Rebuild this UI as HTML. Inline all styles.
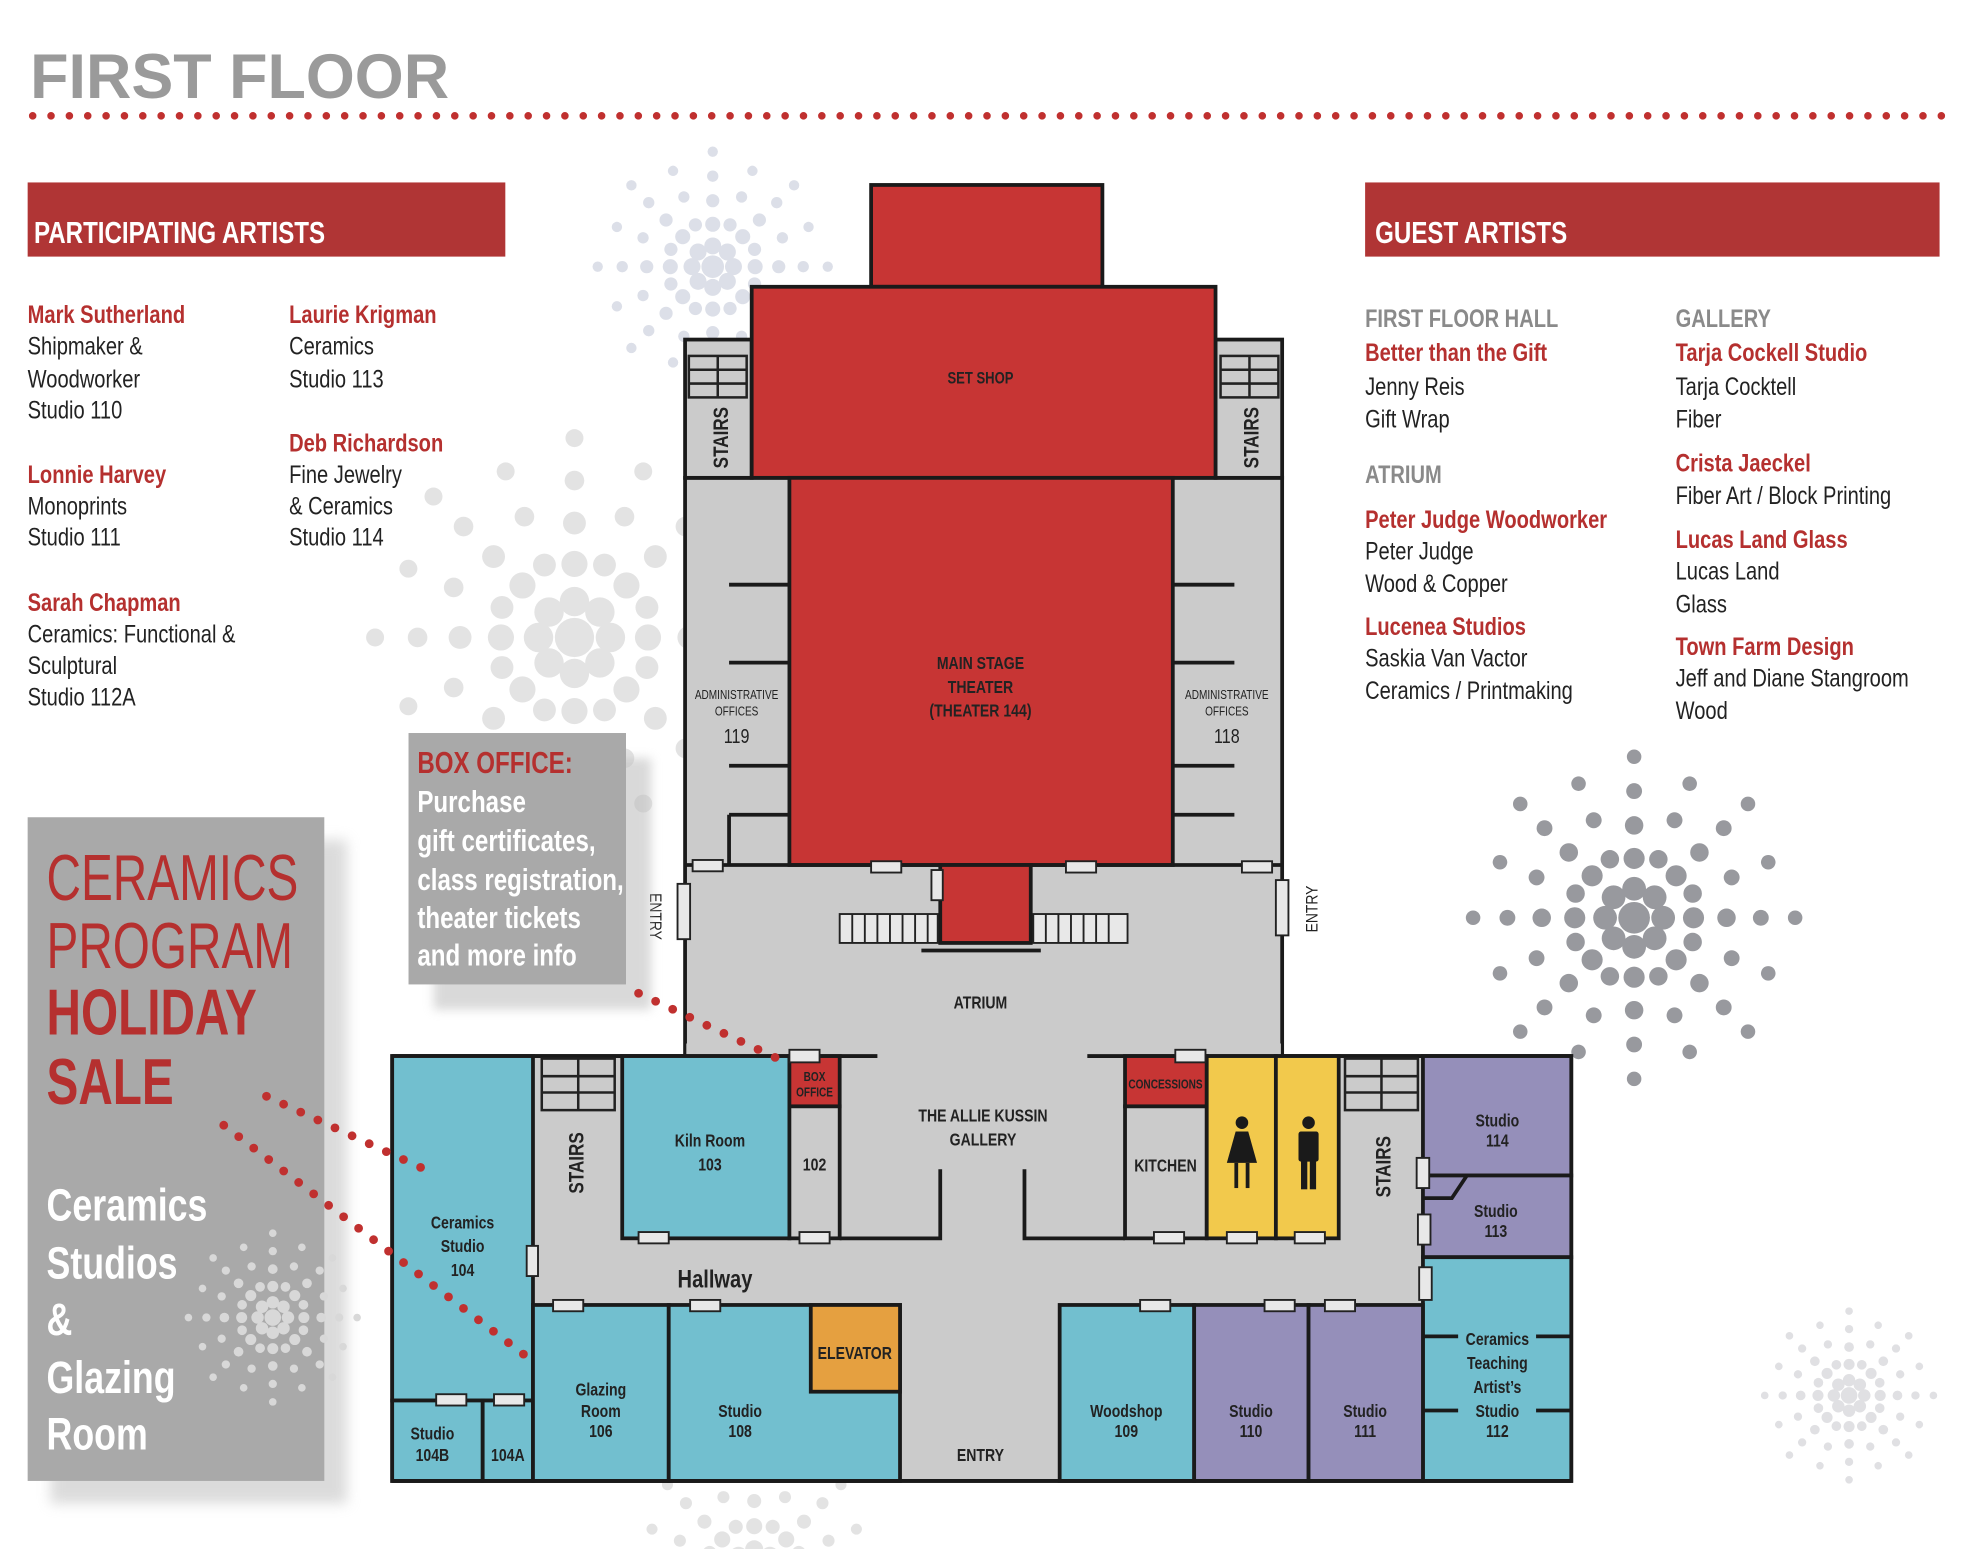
<!DOCTYPE html>
<html><head><meta charset="utf-8"><style>
html,body{margin:0;padding:0;background:#fff;overflow:hidden;width:1971px;height:1549px;}
svg{display:block;}
text{font-family:"Liberation Sans",sans-serif;}
.b{font-weight:bold;}
.lbl{font-weight:bold;font-size:14px;fill:#222;text-anchor:middle;}
.w{stroke:#1a1a1a;stroke-width:3;}
.door{fill:#e8e8e8;stroke:#222;stroke-width:1.5;}
.a{font-size:20px;fill:#222;}
.r{font-size:20px;fill:#b5302f;font-weight:bold;}
.g{font-size:20px;fill:#8a8a8a;font-weight:bold;}
</style></head><body>
<svg width="1971" height="1549" viewBox="0 0 1568 1232" xmlns="http://www.w3.org/2000/svg">
<defs>
<g id="ray"><circle cx="22" cy="0" r="9"/><circle cx="45" cy="0" r="8"/><circle cx="70" cy="0" r="7"/><circle cx="96" cy="0" r="6"/><circle cx="122" cy="0" r="5.5"/></g>
<g id="ray2"><circle cx="48" cy="0" r="7"/><circle cx="80" cy="0" r="6"/><circle cx="110" cy="0" r="5.5"/></g>
<g id="burst">
<circle r="12"/>
<use href="#ray"/><use href="#ray" transform="rotate(45)"/><use href="#ray" transform="rotate(90)"/><use href="#ray" transform="rotate(135)"/><use href="#ray" transform="rotate(180)"/><use href="#ray" transform="rotate(225)"/><use href="#ray" transform="rotate(270)"/><use href="#ray" transform="rotate(315)"/>
<use href="#ray2" transform="rotate(22.5)"/><use href="#ray2" transform="rotate(67.5)"/><use href="#ray2" transform="rotate(112.5)"/><use href="#ray2" transform="rotate(157.5)"/><use href="#ray2" transform="rotate(202.5)"/><use href="#ray2" transform="rotate(247.5)"/><use href="#ray2" transform="rotate(292.5)"/><use href="#ray2" transform="rotate(337.5)"/>
</g>
</defs>
<rect width="1568" height="1232" fill="#fff"/>
<use href="#burst" fill="#dcdfe8" transform="translate(567,212) scale(0.75)"/>
<use href="#burst" fill="#e3e3e3" transform="translate(457,507) scale(1.3)"/>
<use href="#burst" fill="#98999e" transform="translate(1300,730) scale(1.05)"/>
<use href="#burst" fill="#e0e0e3" transform="translate(1471,1110) scale(0.55)"/>
<use href="#burst" fill="#e3e3e3" transform="translate(600,1250) scale(0.8)"/>

<text x="24" y="78" class="b" style="font-size:50px;fill:#9a9a9a">FIRST FLOOR</text>
<line x1="26" y1="92" x2="1545" y2="92" stroke="#c0302f" stroke-width="6" stroke-linecap="round" stroke-dasharray="0 14.6"/>

<rect x="22" y="145" width="380" height="59" fill="#b03535"/>
<g transform="translate(27,0) scale(0.8,1)"><text x="0" y="193" class="b" style="font-size:24px;fill:#fff">PARTICIPATING ARTISTS</text></g>
<rect x="1086" y="145" width="457" height="59" fill="#b03535"/>
<g transform="translate(1094,0) scale(0.8,1)"><text x="0" y="193" class="b" style="font-size:24px;fill:#fff">GUEST ARTISTS</text></g>

<g transform="translate(22,0) scale(0.8,1)">
<text class="r" x="0" y="257">Mark Sutherland</text>
<text class="a" x="0" y="282">Shipmaker &amp;</text>
<text class="a" x="0" y="308">Woodworker</text>
<text class="a" x="0" y="333">Studio 110</text>
<text class="r" x="0" y="384">Lonnie Harvey</text>
<text class="a" x="0" y="409">Monoprints</text>
<text class="a" x="0" y="434">Studio 111</text>
<text class="r" x="0" y="486">Sarah Chapman</text>
<text class="a" x="0" y="511">Ceramics: Functional &amp;</text>
<text class="a" x="0" y="536">Sculptural</text>
<text class="a" x="0" y="561">Studio 112A</text>
</g>
<g transform="translate(230,0) scale(0.8,1)">
<text class="r" x="0" y="257">Laurie Krigman</text>
<text class="a" x="0" y="282">Ceramics</text>
<text class="a" x="0" y="308">Studio 113</text>
<text class="r" x="0" y="359">Deb Richardson</text>
<text class="a" x="0" y="384">Fine Jewelry</text>
<text class="a" x="0" y="409">&amp; Ceramics</text>
<text class="a" x="0" y="434">Studio 114</text>
</g>
<g transform="translate(1086,0) scale(0.8,1)">
<text class="g" x="0" y="260">FIRST FLOOR HALL</text>
<text class="r" x="0" y="287">Better than the Gift</text>
<text class="a" x="0" y="314">Jenny Reis</text>
<text class="a" x="0" y="340">Gift Wrap</text>
<text class="g" x="0" y="384">ATRIUM</text>
<text class="r" x="0" y="420">Peter Judge Woodworker</text>
<text class="a" x="0" y="445">Peter Judge</text>
<text class="a" x="0" y="471">Wood &amp; Copper</text>
<text class="r" x="0" y="505">Lucenea Studios</text>
<text class="a" x="0" y="530">Saskia Van Vactor</text>
<text class="a" x="0" y="556">Ceramics / Printmaking</text>
</g>
<g transform="translate(1333,0) scale(0.8,1)">
<text class="g" x="0" y="260">GALLERY</text>
<text class="r" x="0" y="287">Tarja Cockell Studio</text>
<text class="a" x="0" y="314">Tarja Cocktell</text>
<text class="a" x="0" y="340">Fiber</text>
<text class="r" x="0" y="375">Crista Jaeckel</text>
<text class="a" x="0" y="401">Fiber Art / Block Printing</text>
<text class="r" x="0" y="436">Lucas Land Glass</text>
<text class="a" x="0" y="461">Lucas Land</text>
<text class="a" x="0" y="487">Glass</text>
<text class="r" x="0" y="521">Town Farm Design</text>
<text class="a" x="0" y="546">Jeff and Diane Stangroom</text>
<text class="a" x="0" y="572">Wood</text>
</g>

<!-- FLOOR PLAN -->
<rect x="545" y="380" width="475" height="462" fill="#cbcbcb" class="w"/>
<rect x="312" y="840" width="938" height="338" fill="#cbcbcb" class="w"/>
<rect x="546" y="830" width="473" height="20" fill="#cbcbcb"/>
<line x1="312" y1="840" x2="698" y2="840" class="w"/>
<line x1="865" y1="840" x2="1250" y2="840" class="w"/>
<rect x="545" y="270" width="53" height="110" fill="#cbcbcb" class="w"/>
<rect x="967" y="270" width="53" height="110" fill="#cbcbcb" class="w"/>
<g fill="none" stroke="#222" stroke-width="2">
<rect x="548" y="283" width="46" height="33"/><line x1="548" y1="294" x2="594" y2="294"/><line x1="548" y1="305" x2="594" y2="305"/><line x1="571" y1="283" x2="571" y2="316"/>
<rect x="971" y="283" width="46" height="33"/><line x1="971" y1="294" x2="1017" y2="294"/><line x1="971" y1="305" x2="1017" y2="305"/><line x1="994" y1="283" x2="994" y2="316"/>
<rect x="431" y="842" width="58" height="41"/><line x1="431" y1="856" x2="489" y2="856"/><line x1="431" y1="869" x2="489" y2="869"/><line x1="460" y1="842" x2="460" y2="883"/>
<rect x="1070" y="842" width="58" height="41"/><line x1="1070" y1="856" x2="1128" y2="856"/><line x1="1070" y1="869" x2="1128" y2="869"/><line x1="1099" y1="842" x2="1099" y2="883"/>
</g>
<text class="lbl" transform="translate(579,348) rotate(-90) scale(0.8,1)" style="font-size:17px">STAIRS</text>
<text class="lbl" transform="translate(1001,348) rotate(-90) scale(0.8,1)" style="font-size:17px">STAIRS</text>
<text class="lbl" transform="translate(464,925) rotate(-90) scale(0.8,1)" style="font-size:17px">STAIRS</text>
<text class="lbl" transform="translate(1106,928) rotate(-90) scale(0.8,1)" style="font-size:17px">STAIRS</text>

<rect x="693" y="147" width="184" height="81" fill="#c73534" class="w"/>
<rect x="598" y="228" width="369" height="152" fill="#c73534" class="w"/>
<rect x="628" y="380" width="305" height="308" fill="#c73534" class="w"/>
<line x1="545" y1="688" x2="1020" y2="688" class="w"/>
<g class="w"><line x1="580" y1="465" x2="628" y2="465"/><line x1="580" y1="527" x2="628" y2="527"/><line x1="580" y1="609" x2="628" y2="609"/><line x1="580" y1="648" x2="628" y2="648"/><line x1="580" y1="648" x2="580" y2="688"/>
<line x1="933" y1="465" x2="982" y2="465"/><line x1="933" y1="527" x2="982" y2="527"/><line x1="933" y1="609" x2="982" y2="609"/><line x1="933" y1="648" x2="982" y2="648"/></g>
<rect x="748" y="688" width="72" height="62" fill="#c73534" class="w"/>
<g fill="#e8e8e8" stroke="#222" stroke-width="1.5">
<rect x="668" y="727" width="78" height="23"/><rect x="822" y="727" width="75" height="23"/></g>
<g stroke="#222" stroke-width="1.5">
<line x1="678" y1="727" x2="678" y2="750"/><line x1="688" y1="727" x2="688" y2="750"/><line x1="698" y1="727" x2="698" y2="750"/><line x1="708" y1="727" x2="708" y2="750"/><line x1="718" y1="727" x2="718" y2="750"/><line x1="728" y1="727" x2="728" y2="750"/><line x1="738" y1="727" x2="738" y2="750"/>
<line x1="832" y1="727" x2="832" y2="750"/><line x1="842" y1="727" x2="842" y2="750"/><line x1="852" y1="727" x2="852" y2="750"/><line x1="862" y1="727" x2="862" y2="750"/><line x1="872" y1="727" x2="872" y2="750"/><line x1="882" y1="727" x2="882" y2="750"/></g>
<line x1="733" y1="756" x2="828" y2="756" class="w"/>

<rect x="312" y="840" width="112" height="274" fill="#72bfcf" class="w"/>
<rect x="312" y="1114" width="72" height="64" fill="#72bfcf" class="w"/>
<rect x="384" y="1114" width="40" height="64" fill="#72bfcf" class="w"/>
<rect x="495" y="840" width="133" height="145" fill="#72bfcf" class="w"/>
<rect x="628" y="840" width="40" height="40" fill="#c73534" class="w"/>
<rect x="628" y="880" width="40" height="105" fill="#cbcbcb" class="w"/>
<g class="w" fill="none"><polyline points="668,985 748,985 748,930"/><polyline points="815,930 815,985 895,985"/></g>
<rect x="895" y="840" width="65" height="40" fill="#c73534" class="w"/>
<rect x="895" y="880" width="65" height="105" fill="#cbcbcb" class="w"/>
<rect x="960" y="840" width="55" height="145" fill="#f2c94c" class="w"/>
<rect x="1015" y="840" width="50" height="145" fill="#f2c94c" class="w"/>
<g fill="#1a1a1a">
<circle cx="988" cy="893" r="5"/><polygon points="983,900 993,900 1000,925 976,925"/><rect x="982" y="925" width="3" height="20"/><rect x="991" y="925" width="3" height="20"/>
<circle cx="1041" cy="893" r="5"/><rect x="1033" y="900" width="16" height="24" rx="2"/><rect x="1035" y="922" width="5" height="24"/><rect x="1042" y="922" width="5" height="24"/></g>
<rect x="1132" y="840" width="118" height="95" fill="#958fba" class="w"/>
<rect x="1132" y="935" width="118" height="65" fill="#958fba" class="w"/>
<polyline points="1132,953 1155,953 1167,935" fill="none" class="w"/>
<rect x="1132" y="1000" width="118" height="178" fill="#72bfcf" class="w"/>
<g class="w"><line x1="1132" y1="1063" x2="1160" y2="1063"/><line x1="1222" y1="1063" x2="1250" y2="1063"/><line x1="1132" y1="1122" x2="1160" y2="1122"/><line x1="1222" y1="1122" x2="1250" y2="1122"/></g>
<rect x="424" y="1038" width="108" height="140" fill="#72bfcf" class="w"/>
<rect x="532" y="1038" width="184" height="140" fill="#72bfcf" class="w"/>
<rect x="645" y="1038" width="71" height="69" fill="#e5a040" class="w"/>
<rect x="843" y="1038" width="107" height="140" fill="#72bfcf" class="w"/>
<rect x="950" y="1038" width="91" height="140" fill="#958fba" class="w"/>
<rect x="1041" y="1038" width="91" height="140" fill="#958fba" class="w"/>
<line x1="312" y1="1178" x2="1250" y2="1178" class="w"/>

<!-- plan labels (condensed) -->
<g transform="scale(0.8,1)">
<text class="lbl" x="975" y="305" style="font-size:13px">SET SHOP</text>
<text class="lbl" x="975" y="532">MAIN STAGE</text>
<text class="lbl" x="975" y="551">THEATER</text>
<text class="lbl" x="975" y="570">(THEATER 144)</text>
<text class="lbl" x="732.5" y="556" style="font-size:10px;font-weight:normal">ADMINISTRATIVE</text>
<text class="lbl" x="732.5" y="569" style="font-size:10px;font-weight:normal">OFFICES</text>
<text class="lbl" x="732.5" y="591" style="font-size:16px;font-weight:normal">119</text>
<text class="lbl" x="1220" y="556" style="font-size:10px;font-weight:normal">ADMINISTRATIVE</text>
<text class="lbl" x="1220" y="569" style="font-size:10px;font-weight:normal">OFFICES</text>
<text class="lbl" x="1220" y="591" style="font-size:16px;font-weight:normal">118</text>
<text class="lbl" x="975" y="802">ATRIUM</text>
<text class="lbl" x="460" y="977">Ceramics</text><text class="lbl" x="460" y="996">Studio</text><text class="lbl" x="460" y="1015">104</text>
<text class="lbl" x="430" y="1145">Studio</text><text class="lbl" x="430" y="1162">104B</text>
<text class="lbl" x="505" y="1162">104A</text>
<text class="lbl" x="706" y="912">Kiln Room</text><text class="lbl" x="706" y="931">103</text>
<text class="lbl" x="810" y="860" style="font-size:10px">BOX</text><text class="lbl" x="810" y="872" style="font-size:10px">OFFICE</text>
<text class="lbl" x="810" y="931">102</text>
<text class="lbl" x="977.5" y="892">THE ALLIE KUSSIN</text><text class="lbl" x="977.5" y="911">GALLERY</text>
<text class="lbl" x="1159" y="866" style="font-size:10px">CONCESSIONS</text>
<text class="lbl" x="1159" y="932">KITCHEN</text>
<text class="lbl" x="1489" y="896">Studio</text><text class="lbl" x="1489" y="912">114</text>
<text class="lbl" x="1487.5" y="968">Studio</text><text class="lbl" x="1487.5" y="984">113</text>
<text class="lbl" x="1489" y="1070">Ceramics</text><text class="lbl" x="1489" y="1089">Teaching</text><text class="lbl" x="1489" y="1108">Artist’s</text><text class="lbl" x="1489" y="1127">Studio</text><text class="lbl" x="1489" y="1143">112</text>
<text class="lbl" x="850" y="1081">ELEVATOR</text>
<text class="lbl" x="597.5" y="1110">Glazing</text><text class="lbl" x="597.5" y="1127">Room</text><text class="lbl" x="597.5" y="1143">106</text>
<text class="lbl" x="736" y="1127">Studio</text><text class="lbl" x="736" y="1143">108</text>
<text class="lbl" x="1120" y="1127">Woodshop</text><text class="lbl" x="1120" y="1143">109</text>
<text class="lbl" x="1244" y="1127">Studio</text><text class="lbl" x="1244" y="1143">110</text>
<text class="lbl" x="1357.5" y="1127">Studio</text><text class="lbl" x="1357.5" y="1143">111</text>
<text class="lbl" x="711" y="1024" style="font-size:20px">Hallway</text>
<text class="lbl" x="975" y="1162">ENTRY</text>
</g>
<text class="lbl" transform="translate(517,729) rotate(90) scale(0.85,1)" style="font-size:13px;font-weight:normal">ENTRY</text>
<text class="lbl" transform="translate(1048,723) rotate(-90) scale(0.85,1)" style="font-size:13px;font-weight:normal">ENTRY</text>
<g class="door">
<rect x="551" y="684" width="24" height="9"/><rect x="693" y="685" width="24" height="9"/><rect x="848" y="685" width="24" height="9"/><rect x="988" y="685" width="24" height="9"/>
<rect x="741" y="692" width="9" height="24"/>
<rect x="539" y="703" width="10" height="44"/><rect x="1015" y="700" width="10" height="44"/>
<rect x="628" y="835" width="24" height="10"/><rect x="935" y="835" width="24" height="10"/>
<rect x="508" y="980" width="24" height="9"/><rect x="636" y="980" width="24" height="9"/><rect x="918" y="980" width="24" height="9"/><rect x="976" y="980" width="24" height="9"/><rect x="1030" y="980" width="24" height="9"/>
<rect x="419" y="991" width="9" height="24"/>
<rect x="1127" y="921" width="10" height="24"/><rect x="1128" y="966" width="10" height="24"/><rect x="1129" y="1008" width="10" height="26"/>
<rect x="440" y="1034" width="24" height="9"/><rect x="549" y="1034" width="24" height="9"/><rect x="907" y="1034" width="24" height="9"/><rect x="1006" y="1034" width="24" height="9"/><rect x="1054" y="1034" width="24" height="9"/>
<rect x="347" y="1109" width="24" height="9"/><rect x="393" y="1109" width="24" height="9"/>
</g>

<!-- box office callout -->
<rect x="345" y="603" width="173" height="200" fill="#c0c0c0" opacity="0.6" style="filter:blur(4px)"/>
<rect x="325" y="583" width="173" height="200" fill="#a9a9a9"/>
<g transform="translate(332,0) scale(0.8,1)">
<text x="0" y="615" class="b" style="font-size:24px;fill:#b5302f">BOX OFFICE:</text>
<g class="b" style="font-size:24px;fill:#fff">
<text x="0" y="646">Purchase</text><text x="0" y="677">gift certificates,</text><text x="0" y="708">class registration,</text><text x="0" y="738">theater tickets</text><text x="0" y="768">and more info</text></g>
</g>

<!-- ceramics box -->
<rect x="40" y="668" width="236" height="528" fill="#c4c4c4" opacity="0.6" style="filter:blur(5px)"/>
<rect x="22" y="650" width="236" height="528" fill="#a9a9a9"/>
<use href="#burst" fill="#d8d8d8" transform="translate(217,1048) scale(0.55)"/>
<g transform="translate(37,0) scale(0.73,1)" style="font-size:52px;fill:#b5302f">
<text x="0" y="716">CERAMICS</text><text x="0" y="770">PROGRAM</text>
<text x="0" y="823" class="b">HOLIDAY</text><text x="0" y="878" class="b">SALE</text></g>
<g transform="translate(37,0) scale(0.79,1)" class="b" style="font-size:36px;fill:#fff">
<text x="0" y="971">Ceramics</text><text x="0" y="1017">Studios</text><text x="0" y="1062">&amp;</text><text x="0" y="1108">Glazing</text><text x="0" y="1153">Room</text></g>

<g stroke="#c0302f" stroke-width="7" stroke-linecap="round" stroke-dasharray="0 15" fill="none">
<line x1="508" y1="790" x2="625" y2="845"/>
<line x1="212" y1="872" x2="342" y2="932"/>
<line x1="178" y1="895" x2="428" y2="1086"/>
</g>
</svg>
</body></html>
